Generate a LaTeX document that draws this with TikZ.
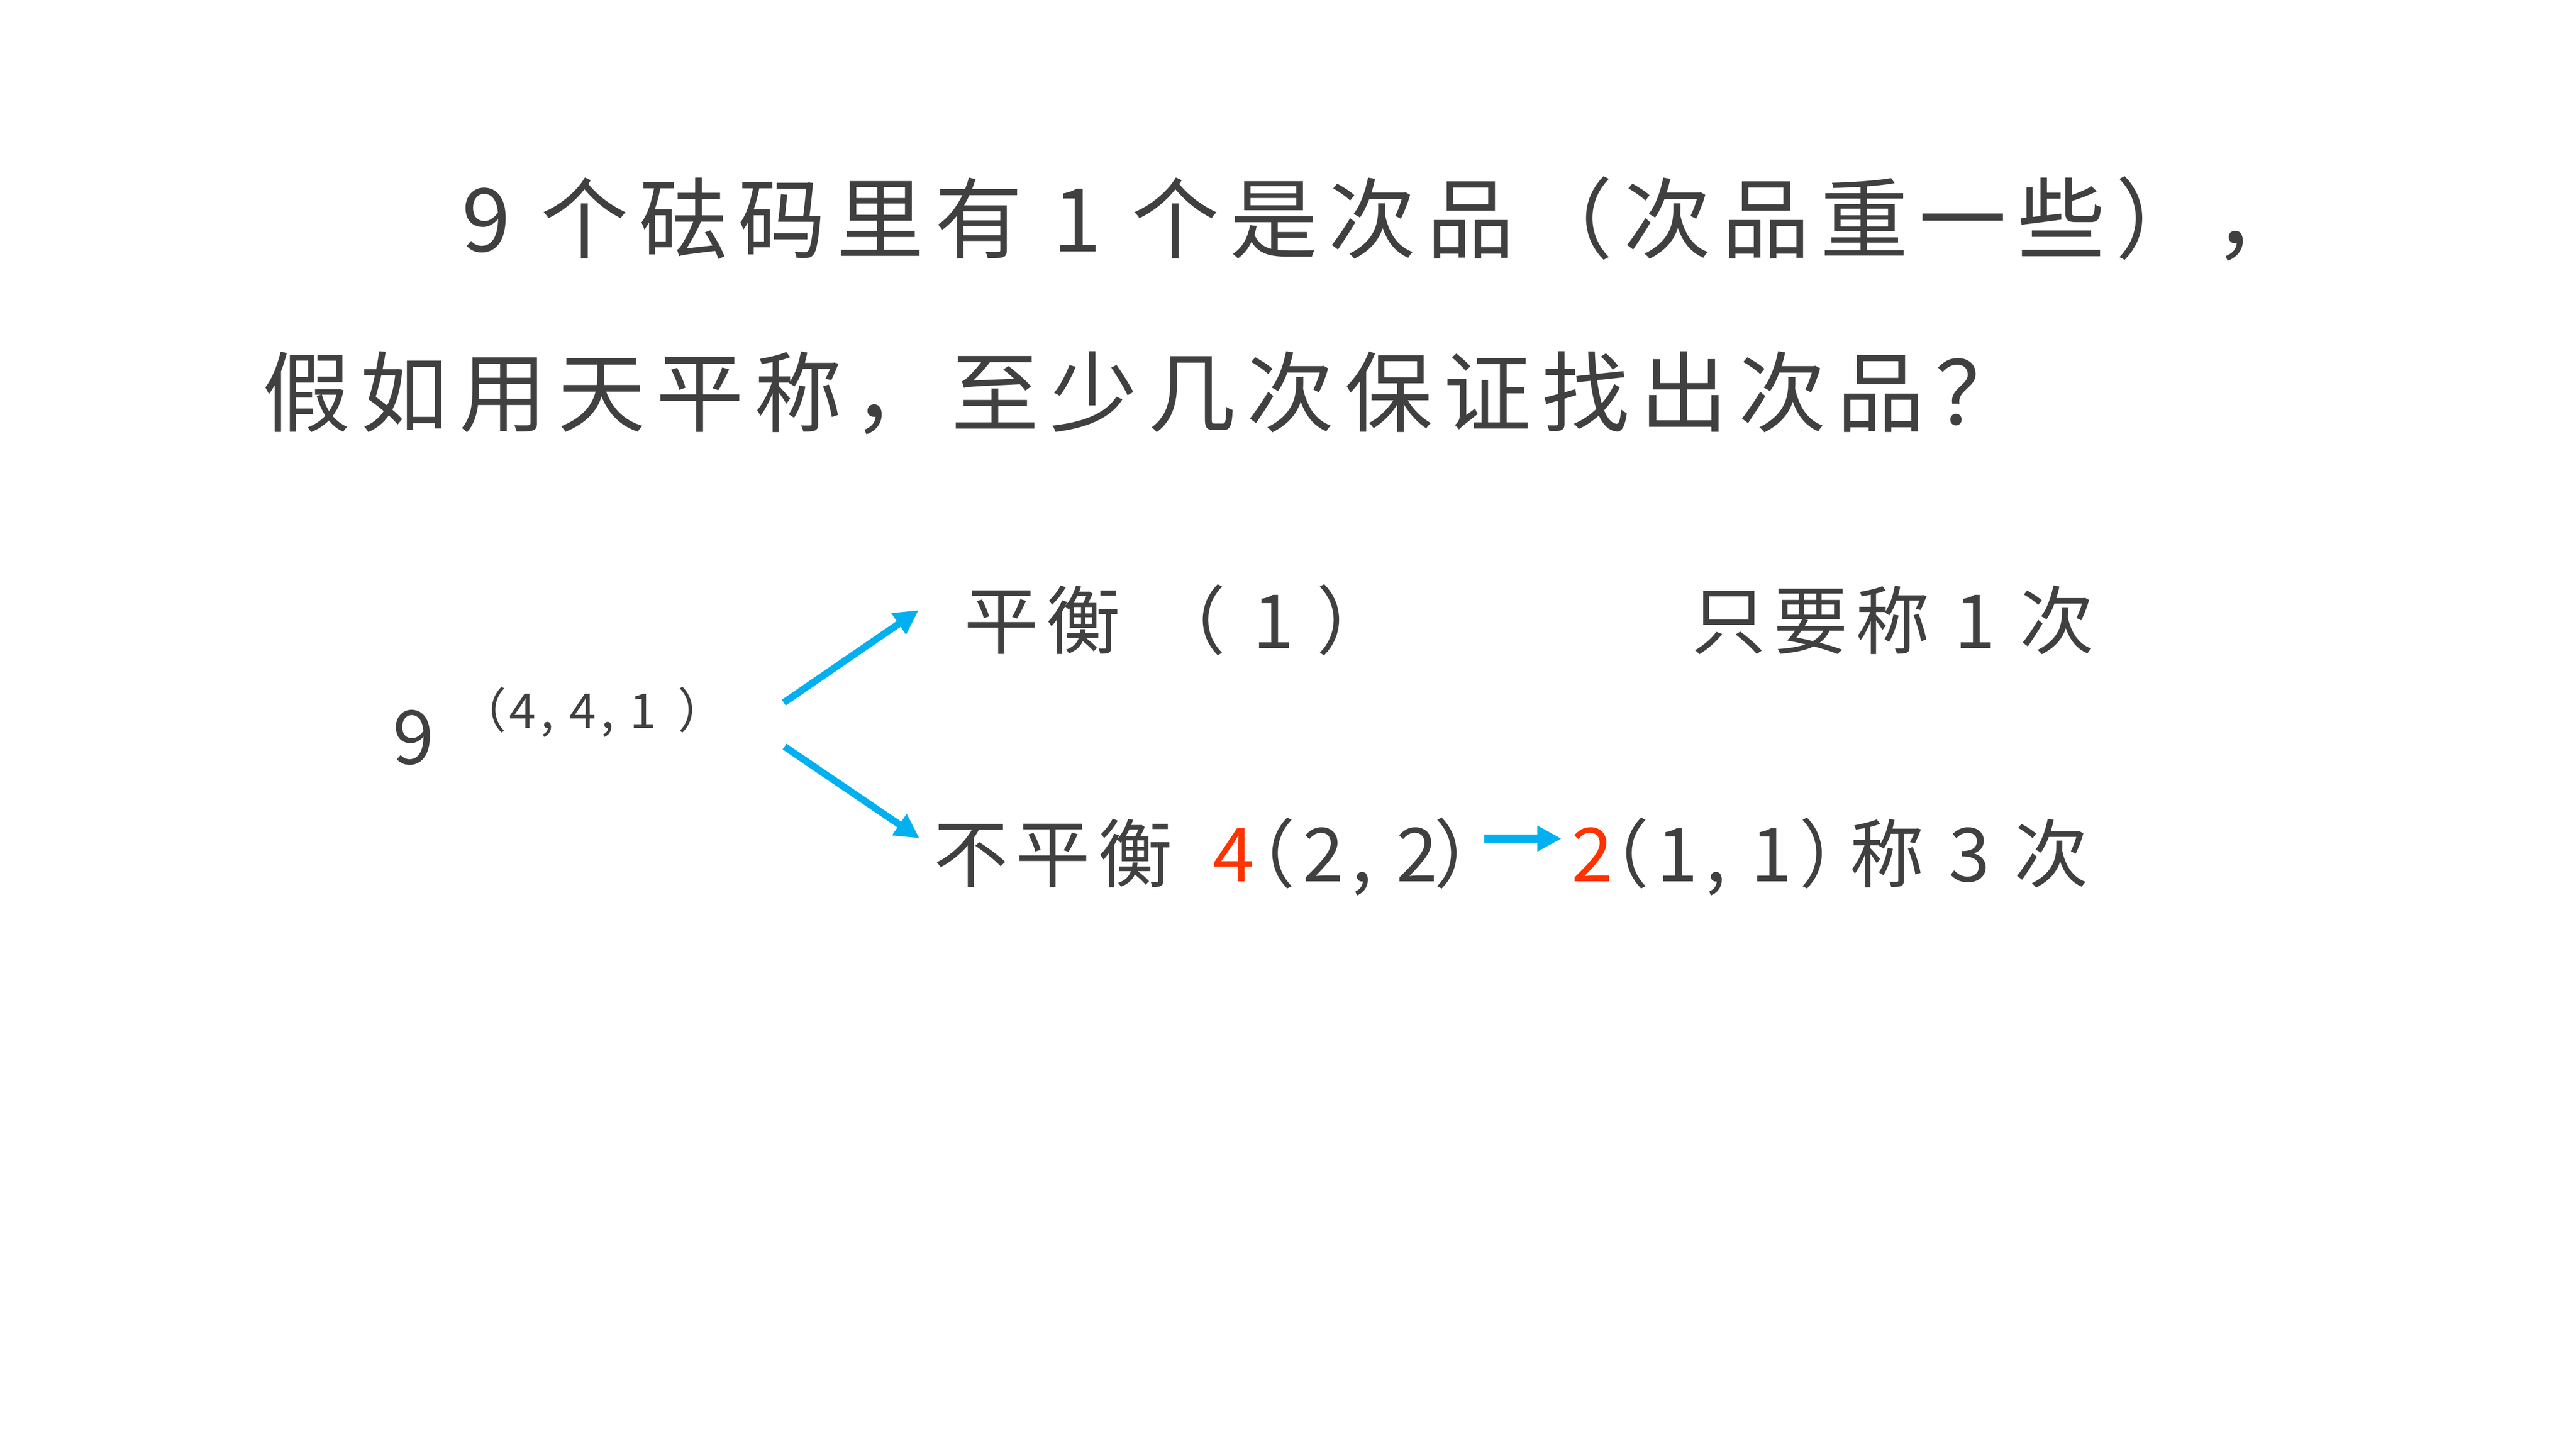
\documentclass[tikz,border=0pt]{standalone}
\usepackage{fontspec}
\setmainfont[LetterSpace=10]{Noto Sans CJK SC}
\newfontfamily\titlefont[LetterSpace=12]{Noto Sans CJK SC}
\usetikzlibrary{arrows.meta}
\definecolor{txtgray}{RGB}{64,64,64}
\definecolor{oddred}{RGB}{255,51,0}
\definecolor{armblue}{RGB}{0,176,240}

\begin{document}
\begin{tikzpicture}[
    every node/.style={inner sep=0pt, text=txtgray},
    title/.style={anchor=west, font=\titlefont\fontsize{33}{40}\selectfont},
    label/.style={anchor=base west, font=\fontsize{28}{34}\selectfont},
    small/.style={anchor=west, font=\fontsize{18}{22}\selectfont},
    odd/.style={label, text=oddred},
    arm/.style={armblue, line width=2.6pt, -{Triangle[length=0.32cm, width=0.32cm]}}
  ]
  \useasboundingbox (0,0) rectangle (34,-19.125);
  % question
  \node[title] (line1) at (6.09,-2.89) {9 个砝码里有 1 个是次品（次品重一些），};
  \node[title] (line2) at (3.455,-5.19) {假如用天平称，至少几次保证找出次品？};
  % nine weights
  \node[label, anchor=center] (nine) at (5.46,-9.74) {9};
  \node[small] (split) at (6.05,-9.40) {（\hspace{0.05em}4, 4, 1\hspace{0.45em}）};
  % balanced
  \node[label] (bal) at (12.72,-8.56) {平衡};
  \node[label] (balone) at (15.19,-8.56) {（\hspace{0.36em}1\hspace{0.3em}）};
  \node[label] (once) at (22.32,-8.56) {只要称 1 次};
  % not balanced
  \node[label] (unbal) at (12.32,-11.64) {不平衡};
  \node[odd] (four) at (16.0,-11.64) {4};
  \node[label] (pair) at (16.105,-11.64) {（2, 2\hspace{-0.05em}）};
  \node[odd] (two) at (20.735,-11.64) {2};
  \node[label] (ones) at (20.78,-11.64) {（1, 1）};
  \node[label] (thrice) at (24.41,-11.64) {称 3 次};
  % arrows
  \coordinate (forkup) at (10.345,-9.275);
  \coordinate (forkdn) at (10.355,-9.855);
  \coordinate (tipup) at (12.125,-8.055);
  \coordinate (tipdn) at (12.135,-11.065);
  \coordinate (halvefrom) at (19.59,-11.07);
  \coordinate (halveto) at (20.61,-11.07);
  \draw[arm] (forkup) -- (tipup);
  \draw[arm] (forkdn) -- (tipdn);
  \draw[arm, line width=3pt] (halvefrom) -- (halveto);
\end{tikzpicture}
\end{document}
